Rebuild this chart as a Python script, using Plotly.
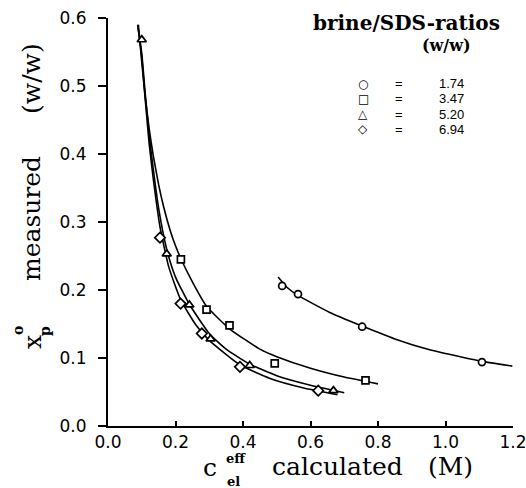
import plotly.graph_objects as go

# ---------------- data ----------------
ratio_labels = ["1.74", "3.47", "5.20", "6.94"]
symbols = ["circle", "square", "triangle-up", "diamond"]
legend_glyphs = ["○", "□", "△", "◇"]

# measured points
x_174 = [0.516, 0.563, 0.753, 1.108]
y_174 = [0.206, 0.194, 0.146, 0.094]

x_347 = [0.216, 0.292, 0.360, 0.494, 0.763]
y_347 = [0.245, 0.171, 0.148, 0.092, 0.067]

x_520 = [0.100, 0.174, 0.241, 0.304, 0.420, 0.668]
y_520 = [0.568, 0.253, 0.178, 0.128, 0.089, 0.052]

x_694 = [0.154, 0.215, 0.278, 0.391, 0.623]
y_694 = [0.277, 0.180, 0.136, 0.087, 0.052]

# fitted curves
cx_174 = [0.504, 0.530, 0.563, 0.657, 0.753, 0.850, 0.953, 1.050, 1.108, 1.198]
cy_174 = [0.219, 0.204, 0.192, 0.167, 0.147, 0.128, 0.112, 0.101, 0.095, 0.088]

cx_347 = [0.090, 0.100, 0.110, 0.122, 0.134, 0.150, 0.165, 0.184, 0.200, 0.216, 0.250, 0.292, 0.360, 0.450, 0.500, 0.600, 0.700, 0.800]
cy_347 = [0.590, 0.535, 0.485, 0.437, 0.398, 0.355, 0.322, 0.288, 0.265, 0.246, 0.212, 0.176, 0.143, 0.113, 0.102, 0.085, 0.072, 0.062]

cx_520 = [0.088, 0.100, 0.110, 0.122, 0.134, 0.150, 0.174, 0.200, 0.241, 0.300, 0.350, 0.420, 0.500, 0.600, 0.700]
cy_520 = [0.590, 0.548, 0.490, 0.428, 0.378, 0.320, 0.260, 0.219, 0.179, 0.136, 0.113, 0.091, 0.074, 0.060, 0.049]

cx_694 = [0.088, 0.100, 0.110, 0.122, 0.134, 0.154, 0.180, 0.215, 0.260, 0.300, 0.391, 0.480, 0.580, 0.680]
cy_694 = [0.590, 0.543, 0.482, 0.415, 0.364, 0.293, 0.234, 0.186, 0.149, 0.126, 0.090, 0.070, 0.056, 0.046]

x_ticks = [0.0, 0.2, 0.4, 0.6, 0.8, 1.0, 1.2]
y_ticks = [0.0, 0.1, 0.2, 0.3, 0.4, 0.5, 0.6]

# ---------------- figure ----------------
W, H = 526, 488
ML, MR, MT, MB = 108, 13, 18, 62
PW, PH = W - ML - MR, H - MT - MB


def px(xp):
    return (xp - ML) / PW


def py(yp):
    return (H - MB - yp) / PH


fig = go.Figure()

curves = [(cx_174, cy_174), (cx_347, cy_347), (cx_520, cy_520), (cx_694, cy_694)]
points = [(x_174, y_174), (x_347, y_347), (x_520, y_520), (x_694, y_694)]

for (cx, cy) in curves:
    fig.add_trace(go.Scatter(x=cx, y=cy, mode="lines",
                             line=dict(color="black", width=1.6, shape="spline", smoothing=0.5),
                             showlegend=False, hoverinfo="skip"))

sizes = [7, 7, 8, 8]
for (xs, ys), sym, lab, sz in zip(points, symbols, ratio_labels, sizes):
    fig.add_trace(go.Scatter(x=xs, y=ys, mode="markers", name=lab,
                             marker=dict(symbol=sym, size=sz, color="white",
                                         line=dict(color="black", width=1.7)),
                             showlegend=False))

serif = "DejaVu Serif"
sans = "DejaVu Sans"

fig.update_layout(
    width=W, height=H,
    margin=dict(l=ML, r=MR, t=MT, b=MB, autoexpand=False),
    paper_bgcolor="white", plot_bgcolor="white",
    showlegend=False,
    xaxis=dict(range=[0, 1.2], tickvals=x_ticks, ticktext=[f"{v:.1f}" for v in x_ticks],
               showline=True, linecolor="black", linewidth=2, mirror=False,
               ticks="inside", ticklen=5, tickwidth=1.5, tickcolor="black",
               showgrid=False, zeroline=False, automargin=False, ticklabeloverflow="allow",
               tickfont=dict(family=sans, size=17, color="black")),
    yaxis=dict(range=[0, 0.6], tickvals=y_ticks, ticktext=[f"{v:.1f}" for v in y_ticks],
               showline=True, linecolor="black", linewidth=2, mirror=False,
               ticks="outside", ticklen=8, tickwidth=1.5, tickcolor="black",
               showgrid=False, zeroline=False, automargin=False, ticklabelstandoff=8,
               ticklabeloverflow="allow",
               tickfont=dict(family=sans, size=17, color="black")),
)


def A(text, x, y, size, family=serif, anchor="center", angle=0):
    return dict(text=text, x=px(x), y=py(y), xref="paper", yref="paper",
                xanchor=anchor, yanchor="middle", showarrow=False, textangle=angle,
                font=dict(family=family, size=size, color="black"))


ann = []
# legend title
ann.append(A("<b>brine/SDS-ratios</b>", 406, 23, 20))
ann.append(A("<b>(w/w)</b>", 446, 46, 16))
rows_y = [84, 99, 114, 129]
for g, lab, ry in zip(legend_glyphs, ratio_labels, rows_y):
    ann.append(A(g, 363, ry, 12, family=sans))
    ann.append(A("=", 399, ry, 13, family="Liberation Sans"))
    ann.append(A(lab, 437, ry, 13, family="Liberation Sans", anchor="left"))

# x-axis title
ann.append(A("c", 210, 467, 25))
ann.append(A("<b>eff</b>", 236, 458, 13))
ann.append(A("<b>el</b>", 233, 481, 13))
ann.append(A("calculated", 270, 466, 25, anchor="left"))
ann.append(A("(M)", 426, 466, 25, anchor="left"))

# y-axis title (rotated)
ann.append(A("x", 32, 342, 25, angle=-90))
ann.append(A("<b>o</b>", 18, 331, 14, angle=-90))
ann.append(A("<b>p</b>", 45, 331, 14, angle=-90))
ann.append(A("measured", 31, 219, 25, angle=-90))
ann.append(A("(w/w)", 31, 79, 25, angle=-90))

fig.update_layout(annotations=ann)

fig.write_html("out.html")
